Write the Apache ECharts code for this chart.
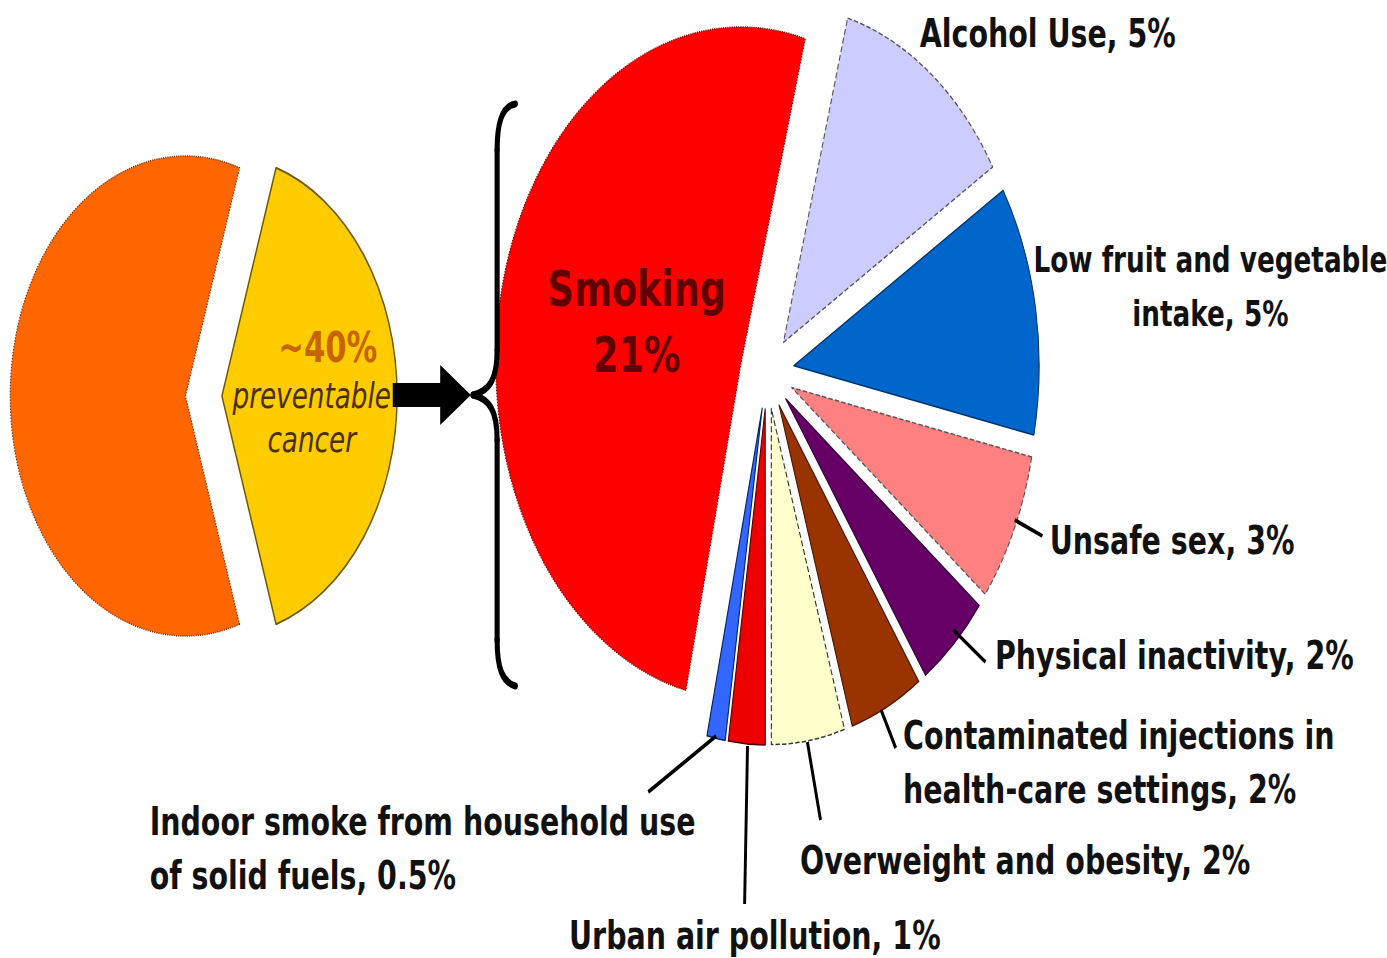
<!DOCTYPE html>
<html>
<head>
<meta charset="utf-8">
<script src="https://cdn.jsdelivr.net/npm/echarts@6/dist/echarts.min.js"></script>
<style>
html,body{margin:0;padding:0;overflow:hidden;background:#fff;width:1387px;height:958px;}
#chart{width:1900px;height:958px;transform:scaleX(0.73);transform-origin:0 0;}
</style>
</head>
<body>
<div id="chart"></div>
<script>
// ---- data ----
const overviewNames = ['preventable cancer', 'other causes'];
const overviewValues = [40, 60];
const overviewColors = ['#FFCC00', '#FF6600'];

const riskNames = [
  'Smoking',
  'Alcohol Use',
  'Low fruit and vegetable\nintake',
  'Unsafe sex',
  'Physical inactivity',
  'Contaminated injections in\nhealth-care settings',
  'Overweight and obesity',
  'Urban air pollution',
  'Indoor smoke from household use\nof solid fuels'
];
const riskValues = [21, 5, 5, 3, 2, 2, 2, 1, 0.5];
const riskColors = ['#FF0000', '#CCCCFF', '#0066CC', '#FF8080', '#660066', '#993300', '#FFFFCC', '#EE0000', '#3366FF'];

// ---- styles / layout (canvas coordinates, before the horizontal squeeze) ----
const riskBorder = [
  {c: '#7a0000', t: 'dotted'}, {c: '#555555', t: 'dashed'}, {c: '#003366', t: 'solid'},
  {c: '#555555', t: 'dashed'}, {c: '#330033', t: 'solid'}, {c: '#4a1800', t: 'solid'},
  {c: '#333333', t: 'dashed'}, {c: '#550000', t: 'solid'}, {c: '#002266', t: 'solid'}
];
const labelPlaces = [
  null,
  {x: 1260, y: 33, align: 'left'},
  {x: 1658, y: 286, align: 'center', size: 36},
  {x: 1438, y: 540, align: 'left', line: [[1390, 520], [1428, 536]]},
  {x: 1363, y: 655, align: 'left', line: [[1306, 630], [1350, 662]]},
  {x: 1237, y: 762, align: 'left', line: [[1207, 710], [1227, 748]]},
  {x: 1096, y: 860, align: 'left', line: [[1106, 742], [1124, 820]]},
  {x: 1034, y: 935, align: 'center', line: [[1024, 746], [1020, 904]]},
  {x: 205, y: 848, align: 'left', line: [[981, 736], [888, 792]]}
];

const PIE_R = 336, PIE_C = [1051, 372];
const LEFT_R = 240, LEFT_C = [279, 396];

const chart = echarts.init(document.getElementById('chart'), null, {renderer: 'svg'});

const overviewData = overviewNames.map((n, i) => ({
  name: n, value: overviewValues[i], selected: true,
  itemStyle: {
    color: overviewColors[i],
    borderColor: i === 0 ? '#6b5a00' : '#7a2a00',
    borderWidth: i === 0 ? 2 : 1.5,
    borderType: i === 0 ? 'solid' : 'dotted'
  },
  label: i === 0 ? {
    show: true, position: 'inside', padding: [0, 0, 8, 0],
    formatter: p => `{a|~${p.value}%}\n{b|preventable}\n{b|cancer}`,
    rich: {
      a: {fontFamily: 'DejaVu Sans', fontWeight: 'bold', fontSize: 42, color: '#c86400', lineHeight: 50, padding: [0, 0, 0, 44]},
      b: {fontFamily: 'DejaVu Sans', fontStyle: 'italic', fontSize: 36, color: '#4a3000', lineHeight: 44}
    }
  } : {show: false}
}));

const riskData = riskNames.map((n, i) => ({
  name: n, value: riskValues[i], selected: true,
  itemStyle: {color: riskColors[i], borderColor: riskBorder[i].c, borderWidth: 1.5, borderType: riskBorder[i].t},
  label: i === 0 ? {
    show: true, position: 'inside', formatter: '{b}\n{c}%', padding: [44, 0, 0, 46],
    fontFamily: 'DejaVu Sans', fontWeight: 'bold', fontSize: 50, lineHeight: 66, color: '#600000'
  } : {show: false}
}));

const labelData = riskNames.map((n, i) => ({
  name: n, value: riskValues[i],
  itemStyle: {color: 'rgba(0,0,0,0)', borderWidth: 0},
  label: {show: i !== 0, fontSize: (labelPlaces[i] && labelPlaces[i].size) || 39},
  labelLine: {show: !!(labelPlaces[i] && labelPlaces[i].line)}
}));

const braceStyle = {fill: 'none', stroke: '#000', lineWidth: 7, lineCap: 'round'};

chart.setOption({
  animation: false,
  backgroundColor: '#ffffff',
  graphic: [
    { // arrow
      type: 'polygon', z: 10,
      shape: {points: [[538, 383], [603, 383], [603, 365], [645, 395], [603, 425], [603, 407], [538, 407]]},
      style: {fill: '#000'}
    },
    {type: 'bezierCurve', z: 10, shape: {x1: 706, y1: 104, cpx1: 688, cpy1: 106, cpx2: 681, cpy2: 122, x2: 681, y2: 150}, style: braceStyle},
    {type: 'line', z: 10, shape: {x1: 681, y1: 150, x2: 681, y2: 350}, style: braceStyle},
    {type: 'bezierCurve', z: 10, shape: {x1: 681, y1: 350, cpx1: 681, cpy1: 380, cpx2: 670, cpy2: 391, x2: 648, y2: 395}, style: braceStyle},
    {type: 'bezierCurve', z: 10, shape: {x1: 648, y1: 395, cpx1: 670, cpy1: 399, cpx2: 681, cpy2: 410, x2: 681, y2: 440}, style: braceStyle},
    {type: 'line', z: 10, shape: {x1: 681, y1: 440, x2: 681, y2: 640}, style: braceStyle},
    {type: 'bezierCurve', z: 10, shape: {x1: 681, y1: 640, cpx1: 681, cpy1: 668, cpx2: 688, cpy2: 682, x2: 706, y2: 686}, style: braceStyle}
  ],
  series: [
    {
      type: 'pie', name: 'overview', center: LEFT_C, radius: [0, LEFT_R],
      startAngle: 72, clockwise: true, selectedMode: 'multiple', selectedOffset: 25,
      avoidLabelOverlap: false, emphasis: {disabled: true}, labelLine: {show: false},
      data: overviewData
    },
    {
      type: 'pie', name: 'risks', center: PIE_C, radius: [0, PIE_R],
      startAngle: 257, clockwise: true, selectedMode: 'multiple', selectedOffset: 37,
      avoidLabelOverlap: false, emphasis: {disabled: true}, labelLine: {show: false},
      data: riskData
    },
    {
      type: 'pie', name: 'risk labels', center: PIE_C, radius: [0, PIE_R], z: 5,
      startAngle: 257, clockwise: true, silent: true, selectedMode: false,
      avoidLabelOverlap: false, emphasis: {disabled: true},
      label: {
        show: true, position: 'outside',
        formatter: p => `${p.name}, ${p.value}%`,
        fontFamily: 'DejaVu Sans', fontWeight: 'bold', fontSize: 39, lineHeight: 54, color: '#111'
      },
      labelLine: {show: true, lineStyle: {color: '#000', width: 4}},
      labelLayout: params => {
        const L = labelPlaces[params.dataIndex];
        if (!L) return {};
        const o = {x: L.x, y: L.y, align: L.align, verticalAlign: 'middle'};
        if (L.line) o.labelLinePoints = L.line;
        return o;
      },
      data: labelData
    }
  ]
});
</script>
</body>
</html>
